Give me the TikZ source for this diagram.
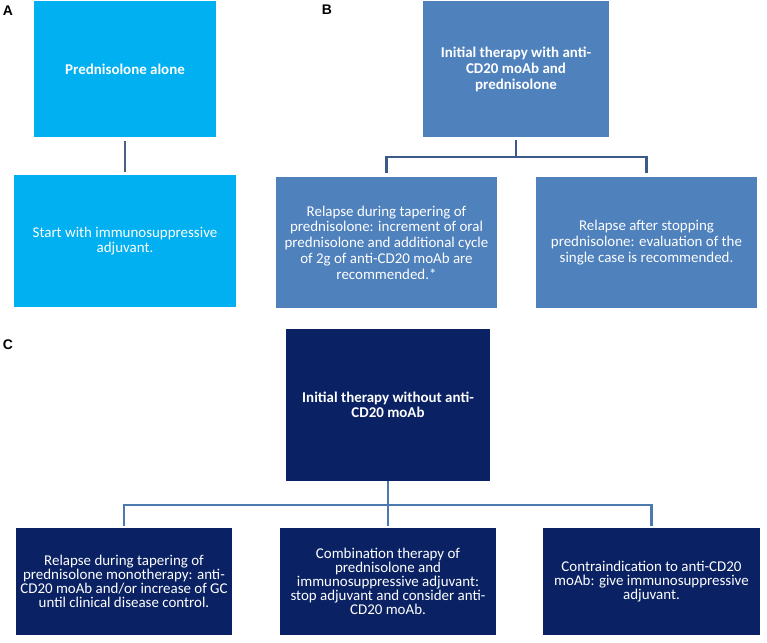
\documentclass[tikz,border=0pt]{standalone}
\usepackage{fontspec}
\setmainfont{Carlito}
\newfontfamily\panelfont{Liberation Sans}

\definecolor{lightblue}{RGB}{0,176,240}
\definecolor{midblue}{RGB}{79,129,189}
\definecolor{navy}{RGB}{10,34,100}
\definecolor{linkA}{RGB}{78,96,130}
\definecolor{linkB}{RGB}{59,90,138}
\definecolor{linkC}{RGB}{75,121,176}

\begin{document}
\begin{tikzpicture}[>=stealth]
    \tikzstyle{box}=[rectangle, inner sep=2bp, align=center, text=white]
    \tikzstyle{boxA}=[box, fill=lightblue, font=\fontsize{15}{15.8}\selectfont]
    \tikzstyle{boxB}=[box, fill=midblue, font=\fontsize{15}{15.8}\selectfont]
    \tikzstyle{boxC}=[box, fill=navy, font=\fontsize{15}{14.2}\selectfont]
    \tikzstyle{panel}=[font=\panelfont\bfseries\fontsize{14}{14}\selectfont]
    \tikzstyle{link}=[line width=2.2bp]

    \useasboundingbox (0,0) rectangle (767bp,-643bp);

    % panel A
    \node[panel] (labA) at (8bp,-11bp) {A};
    \node[boxA, minimum width=182bp, minimum height=136bp, font=\fontsize{15}{15.8}\selectfont\bfseries] (predalone) at (125bp,-69bp) {Prednisolone alone};
    \node[boxA, below of=predalone, node distance=172bp, minimum width=222bp, minimum height=132bp] (startadj) {Start with immunosuppressive\\adjuvant.};

    \draw[link, draw=linkA, shorten <=4bp, shorten >=3bp] (predalone) -- (startadj);

    % panel B
    \node[panel] (labB) at (327bp,-10bp) {B};
    \node[boxB, right of=predalone, node distance=391bp, minimum width=186bp, minimum height=136bp, font=\fontsize{15}{16}\selectfont\bfseries] (initwith) {Initial therapy with anti-\\CD20 moAb and\\prednisolone};
    \node[boxB, minimum width=221bp, minimum height=131bp] (relapsetaper) at (386.5bp,-242.5bp) {Relapse during tapering of\\prednisolone: increment of oral\\prednisolone and additional cycle\\of 2g of anti-CD20 moAb are\\recommended.*};
    \node[boxB, right of=relapsetaper, node distance=260bp, minimum width=221bp, minimum height=131bp] (relapsestop) {Relapse after stopping\\prednisolone: evaluation of the\\single case is recommended.};

    \draw[link, draw=linkB, shorten <=3bp, shorten >=4bp] (initwith.south) -- ++(0,-20bp) -| (relapsetaper.north);
    \draw[link, draw=linkB, shorten <=3bp, shorten >=4bp] (initwith.south) -- ++(0,-20bp) -| (relapsestop.north);

    % panel C
    \node[panel] (labC) at (8bp,-345bp) {C};
    \node[boxC, minimum width=204bp, minimum height=152bp, font=\fontsize{15}{15}\selectfont\bfseries] (initwithout) at (388bp,-405bp) {Initial therapy without anti-\\CD20 moAb};
    \node[boxC, below of=initwithout, node distance=176.5bp, minimum width=216bp, minimum height=107bp] (combo) {Combination therapy of\\prednisolone and\\immunosuppressive adjuvant:\\stop adjuvant and consider anti-\\CD20 moAb.};
    \node[boxC, left of=combo, node distance=264bp, minimum width=216bp, minimum height=107bp] (relapsemono) {Relapse during tapering of\\prednisolone monotherapy: anti-\\CD20 moAb and/or increase of GC\\until clinical disease control.};
    \node[boxC, right of=combo, node distance=263.5bp, minimum width=217bp, minimum height=107bp] (contra) {Contraindication to anti-CD20\\moAb: give immunosuppressive\\adjuvant.};

    \draw[link, draw=linkC, shorten >=2bp] (initwithout.south) -- ++(0,-24bp) -| (relapsemono.north);
    \draw[link, draw=linkC, shorten >=2bp] (initwithout.south) -- (combo.north);
    \draw[link, draw=linkC, shorten >=2bp] (initwithout.south) -- ++(0,-24bp) -| (contra.north);
\end{tikzpicture}
\end{document}
